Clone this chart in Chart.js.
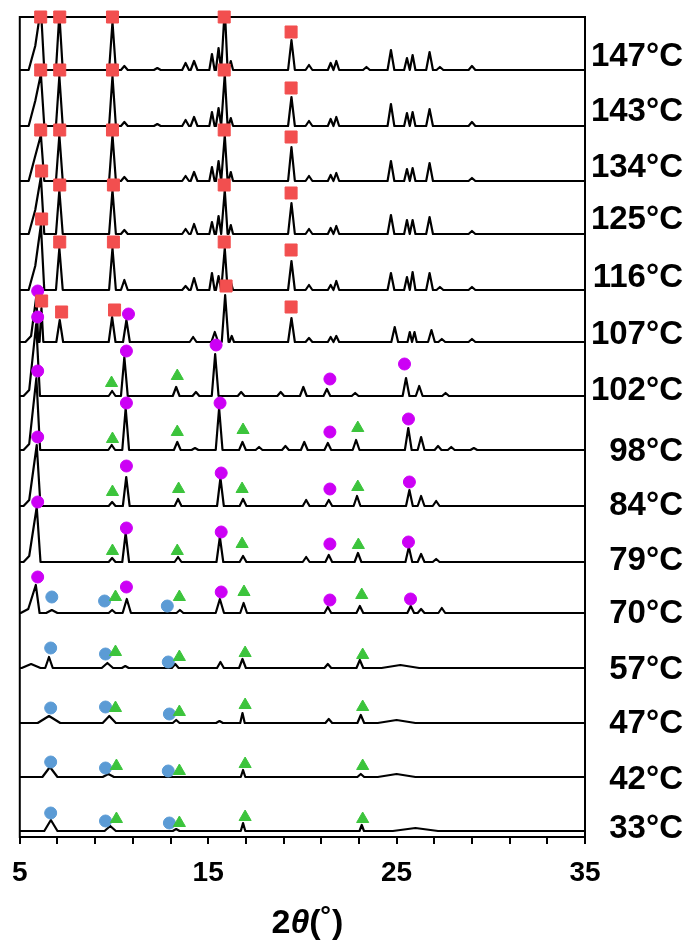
<!DOCTYPE html>
<html>
<head>
<meta charset="utf-8">
<script src="https://cdn.jsdelivr.net/npm/chart.js@4.4.1/dist/chart.umd.min.js"></script>
<style>
  body { margin: 0; background: #fff; }
  #wrap { width: 687px; height: 944px; }
</style>
</head>
<body>
<div id="wrap"><canvas id="xrd" width="687" height="944"></canvas></div>
<script>
// temperatures, bottom of stack is the last one
const temps = [147, 143, 134, 125, 116, 107, 102, 98, 84, 79, 70, 57, 47, 42, 33];
// vertical offset of each pattern (stacked, arbitrary units)
const baselines = [767, 711, 656, 603, 547, 495, 441, 387, 331, 275, 224, 169, 114, 60, 6];
// where the temperature label sits on the same scale
const labelLevels = [780, 725, 669, 617, 559, 502, 446, 385, 331, 276, 223, 167, 113, 57, 8];

const tickAngles = [5, 7, 9, 11, 13, 15, 17, 19, 21, 23, 25, 27, 29, 31, 33, 35];
const tickLabels = [5, 15, 25, 35];

// peaks per pattern: [2theta, intensity, half width]
const peaks147 = [[5.82, 24, 0.35], [6.12, 62], [7.1, 56], [9.92, 48], [10.55, 4], [12.3, 2], [13.8, 7], [14.25, 9], [15.2, 16, 0.14], [15.55, 22, 0.14], [15.88, 62, 0.15], [16.2, 9, 0.12], [19.42, 30], [20.35, 5], [21.5, 7, 0.15], [21.8, 9, 0.15], [23.4, 3], [24.7, 20], [25.55, 12, 0.15], [25.85, 15, 0.15], [26.75, 18], [27.3, 3], [29.0, 4]];
const peaks143 = [[5.82, 25, 0.35], [6.12, 52], [7.1, 50], [9.92, 50], [10.55, 4], [12.3, 2], [13.8, 6], [14.25, 9], [15.2, 14, 0.14], [15.55, 18, 0.14], [15.88, 52, 0.15], [16.2, 8, 0.12], [19.42, 29], [20.35, 5], [21.5, 7, 0.15], [21.8, 9, 0.15], [24.7, 22], [25.55, 13, 0.15], [25.85, 14, 0.15], [26.75, 17], [29.0, 4]];
const peaks134 = [[5.82, 25, 0.35], [6.12, 46], [7.1, 46], [9.92, 46], [10.55, 4], [13.8, 5], [14.25, 9], [15.2, 14, 0.14], [15.55, 20, 0.14], [15.88, 46, 0.15], [16.2, 9, 0.12], [19.42, 34], [20.35, 5], [21.5, 6, 0.15], [21.8, 8, 0.15], [24.7, 20], [25.55, 12, 0.15], [25.85, 13, 0.15], [26.75, 18], [29.0, 3]];
const peaks125 = [[5.82, 24, 0.35], [6.12, 57], [7.1, 44], [9.92, 44], [10.55, 4], [13.8, 5], [14.25, 10], [15.2, 12, 0.14], [15.55, 18, 0.14], [15.88, 44, 0.15], [16.2, 9, 0.12], [19.42, 31], [20.35, 5], [21.5, 6, 0.15], [21.8, 8, 0.15], [24.7, 19], [25.55, 14, 0.15], [25.85, 14, 0.15], [26.75, 17], [29.0, 3]];
const peaks116 = [[5.82, 24, 0.35], [6.12, 65], [7.1, 42], [9.92, 42], [10.55, 10], [13.8, 4], [14.25, 12], [15.2, 17, 0.14], [15.55, 14, 0.14], [15.88, 42, 0.15], [16.2, 8, 0.12], [19.42, 29], [20.35, 5], [21.5, 5, 0.15], [21.8, 9, 0.15], [24.7, 17], [25.55, 13, 0.15], [25.85, 18, 0.15], [26.75, 17], [27.3, 3], [29.0, 3]];
const peaks107 = [[5.6, 6, 0.3], [5.88, 46, 0.1], [6.15, 34, 0.1], [7.12, 22], [9.9, 25], [10.66, 22], [14.2, 5], [15.35, 10], [15.9, 47], [16.25, 6, 0.12], [19.42, 24], [20.35, 4], [21.5, 5, 0.15], [21.8, 6, 0.15], [24.9, 15], [25.7, 10, 0.12], [25.95, 10, 0.12], [26.85, 12], [27.4, 3], [29.0, 3]];
const peaks102 = [[5.5, 6, 0.3], [5.87, 72, 0.2], [9.9, 5], [10.55, 39], [13.3, 9], [14.35, 4], [15.37, 42], [16.75, 4], [18.85, 4], [20.05, 9], [21.3, 7], [22.8, 3], [25.5, 18], [26.2, 10], [27.6, 3]];
const peaks98 = [[5.5, 6, 0.3], [5.88, 72, 0.2], [9.88, 5], [10.62, 42], [13.36, 8], [14.3, 2], [15.58, 42], [16.82, 8], [17.7, 3], [19.1, 4], [20.1, 8], [21.35, 7], [22.85, 10], [25.62, 22], [26.3, 13], [27.2, 4], [27.9, 3], [29.1, 2]];
const peaks84 = [[5.5, 6, 0.3], [5.9, 61, 0.2], [9.9, 4], [10.65, 29], [13.4, 7], [15.65, 28], [16.85, 7], [20.2, 6], [21.4, 6], [22.9, 10], [25.68, 16], [26.3, 10], [27.1, 5]];
const peaks79 = [[5.5, 6, 0.3], [5.9, 55, 0.2], [9.9, 4], [10.62, 29], [13.4, 5], [15.62, 25], [16.85, 6], [20.2, 5], [21.4, 7], [22.95, 9], [25.65, 15], [26.3, 8], [27.1, 3]];
const peaks70 = [[5.45, 4, 0.4], [5.85, 28, 0.2], [6.7, 3, 0.3], [9.9, 3], [10.68, 14, 0.22], [13.5, 3], [15.62, 14, 0.22], [16.88, 10], [21.35, 6], [23.05, 7], [25.75, 7], [26.3, 4], [27.4, 5]];
const peaks57 = [[5.6, 4, 0.5], [6.55, 11, 0.2], [9.65, 5, 0.3], [10.6, 2], [13.25, 4], [15.65, 6], [16.82, 9], [21.35, 4], [23.05, 8], [25.2, 3, 1.0]];
const peaks47 = [[6.55, 7, 0.6], [9.75, 7, 0.35], [13.3, 3], [15.6, 2], [16.82, 10, 0.12], [21.4, 4], [23.1, 8], [25.0, 3, 1.0]];
const peaks42 = [[6.6, 10, 0.4], [9.7, 3, 0.3], [16.85, 7, 0.12], [23.1, 3], [25.0, 3, 1.0]];
const peaks33 = [[6.65, 11, 0.35], [9.8, 5, 0.3], [13.3, 2], [16.85, 8, 0.12], [23.15, 6, 0.12], [26.0, 3, 1.2]];
const peakLists = [peaks147, peaks143, peaks134, peaks125, peaks116, peaks107, peaks102, peaks98, peaks84, peaks79, peaks70, peaks57, peaks47, peaks42, peaks33];

// phase markers: [temperature, 2theta, height above that pattern's baseline]
const redSquares = [
  [147, 6.11, 53], [147, 7.12, 53], [147, 9.92, 53], [147, 15.85, 53], [147, 19.4, 38],
  [143, 6.11, 56], [143, 7.12, 56], [143, 9.92, 56], [143, 15.85, 56], [143, 19.4, 38],
  [134, 6.11, 51], [134, 7.12, 51], [134, 9.92, 51], [134, 15.85, 51], [134, 19.4, 44],
  [125, 6.16, 63], [125, 7.12, 49], [125, 9.97, 49], [125, 15.85, 49], [125, 19.4, 41],
  [116, 6.16, 71], [116, 7.12, 48], [116, 9.97, 48], [116, 15.85, 48], [116, 19.4, 40],
  [107, 6.16, 41], [107, 7.22, 30], [107, 10.03, 32], [107, 15.95, 56], [107, 19.4, 35]
];
const magentaCircles = [
  [107, 5.95, 51], [107, 10.77, 28],
  [102, 5.95, 79], [102, 10.66, 45], [102, 15.42, 51], [102, 21.46, 17], [102, 25.42, 32],
  [98, 5.95, 79], [98, 10.66, 47], [98, 15.63, 47], [98, 21.46, 18], [98, 25.63, 31],
  [84, 5.95, 69], [84, 10.66, 40], [84, 15.69, 33], [84, 21.46, 17], [84, 25.68, 24],
  [79, 5.95, 60], [79, 10.66, 34], [79, 15.69, 30], [79, 21.46, 18], [79, 25.63, 20],
  [70, 5.95, 36], [70, 10.66, 26], [70, 15.69, 21], [70, 21.46, 13], [70, 25.74, 14]
];
const greenTriangles = [
  [102, 9.87, 13], [102, 13.36, 20],
  [98, 9.92, 11], [98, 13.36, 18], [98, 16.85, 20], [98, 22.94, 22],
  [84, 9.92, 14], [84, 13.43, 17], [84, 16.8, 17], [84, 22.94, 19],
  [79, 9.92, 11], [79, 13.36, 11], [79, 16.8, 18], [79, 22.97, 17],
  [70, 10.08, 16], [70, 13.47, 16], [70, 16.9, 21], [70, 23.15, 18],
  [57, 10.08, 16], [57, 13.47, 11], [57, 16.96, 15], [57, 23.2, 13],
  [47, 10.08, 15], [47, 13.47, 11], [47, 16.96, 18], [47, 23.2, 16],
  [42, 10.13, 11], [42, 13.47, 6], [42, 16.96, 13], [42, 23.2, 11],
  [33, 10.13, 12], [33, 13.47, 8], [33, 16.96, 14], [33, 23.2, 12]
];
const blueCircles = [
  [70, 6.7, 16], [70, 9.5, 12], [70, 12.83, 7],
  [57, 6.64, 20], [57, 9.55, 14], [57, 12.88, 6],
  [47, 6.64, 15], [47, 9.55, 16], [47, 12.94, 9],
  [42, 6.64, 15], [42, 9.55, 9], [42, 12.88, 6],
  [33, 6.64, 18], [33, 9.55, 10], [33, 12.94, 8]
];

const FONT = "'Liberation Sans', Arial, sans-serif";

// turn a peak list into line vertices on top of a baseline
function buildPattern(peaks, base) {
  const pts = [{ x: 5, y: base }];
  let pending = null;
  peaks.forEach(function (p) {
    const pos = p[0], h = p[1], hw = p[2] || 0.18;
    const left = pos - hw;
    if (pending === null || left > pending) {
      if (pending !== null) pts.push({ x: pending, y: base });
      pts.push({ x: left, y: base });
    }
    pts.push({ x: pos, y: base + h });
    pending = pos + hw;
  });
  if (pending !== null) pts.push({ x: pending, y: base });
  pts.push({ x: 35, y: base });
  return pts;
}

function markerPoints(list) {
  return list.map(function (m) {
    const i = temps.indexOf(m[0]);
    return { x: m[1], y: baselines[i] + m[2] };
  });
}

const datasets = [];
peakLists.forEach(function (peaks, i) {
  datasets.push({
    type: "line",
    label: temps[i] + "°C",
    data: buildPattern(peaks, baselines[i]),
    borderColor: "#000",
    borderWidth: 2.2,
    borderJoinStyle: "round",
    pointRadius: 0,
    tension: 0,
    fill: false,
    order: 1
  });
});

function markerSet(label, list, style, color, radius) {
  return {
    type: "scatter",
    label: label,
    data: markerPoints(list),
    pointStyle: style,
    pointRadius: radius,
    pointBackgroundColor: color,
    pointBorderColor: color,
    pointBorderWidth: 1,
    showLine: false,
    clip: false,
    order: 0
  };
}
datasets.push(markerSet("red", redSquares, "rect", "#F24F4F", 8.5));
datasets.push(markerSet("magenta", magentaCircles, "circle", "#CC00F5", 6));
datasets.push(markerSet("green", greenTriangles, "triangle", "#3CC43C", 7));
datasets.push(markerSet("blue", blueCircles, "circle", "#5B9BD5", 6));

const framePlugin = {
  id: "frame",
  beforeDatasetsDraw(chart) {
    const a = chart.chartArea, ctx = chart.ctx;
    ctx.save();
    ctx.strokeStyle = "#000";
    ctx.lineWidth = 2;
    ctx.strokeRect(a.left, a.top, a.right - a.left, a.bottom - a.top);
    ctx.restore();
  }
};

const labelPlugin = {
  id: "tempLabels",
  afterDraw(chart) {
    const ctx = chart.ctx, y = chart.scales.y;
    ctx.save();
    ctx.fillStyle = "#000";
    ctx.font = "bold 33px " + FONT;
    ctx.textAlign = "right";
    ctx.textBaseline = "middle";
    temps.forEach(function (t, i) {
      ctx.fillText(t + "°C", 683, y.getPixelForValue(labelLevels[i]));
    });
    // axis title 2θ(˚) with italic theta
    const parts = [["2", "bold"], ["θ", "italic bold"], ["(˚)", "bold"]];
    let total = 0;
    parts.forEach(function (p) { ctx.font = p[1] + " 34px " + FONT; total += ctx.measureText(p[0]).width; });
    const a = chart.chartArea;
    let x = (a.left + a.right) / 2 + 5 - total / 2;
    ctx.textAlign = "left";
    ctx.textBaseline = "alphabetic";
    parts.forEach(function (p) {
      ctx.font = p[1] + " 34px " + FONT;
      ctx.fillText(p[0], x, 933);
      x += ctx.measureText(p[0]).width;
    });
    ctx.restore();
  }
};

new Chart(document.getElementById("xrd").getContext("2d"), {
  data: { datasets: datasets },
  options: {
    responsive: false,
    animation: false,
    layout: { padding: { left: 17, top: 17, right: 102, bottom: 0 } },
    plugins: { legend: { display: false }, tooltip: { enabled: false } },
    scales: {
      x: {
        type: "linear",
        min: 5,
        max: 35,
        afterBuildTicks: function (scale) {
          scale.ticks = tickAngles.map(function (v) { return { value: v }; });
        },
        afterFit: function (scale) { scale.height = 107; },
        grid: { drawOnChartArea: false, drawTicks: true, tickLength: 7, color: "#000", lineWidth: 2 },
        border: { display: true, color: "#000", width: 2 },
        ticks: {
          autoSkip: false,
          maxRotation: 0,
          padding: 12,
          color: "#000",
          font: { family: FONT, size: 28, weight: "bold" },
          callback: function (v) { return tickLabels.indexOf(v) >= 0 ? String(v) : ""; }
        }
      },
      y: { type: "linear", min: 0, max: 820, display: false }
    }
  },
  plugins: [framePlugin, labelPlugin]
});
</script>
</body>
</html>
